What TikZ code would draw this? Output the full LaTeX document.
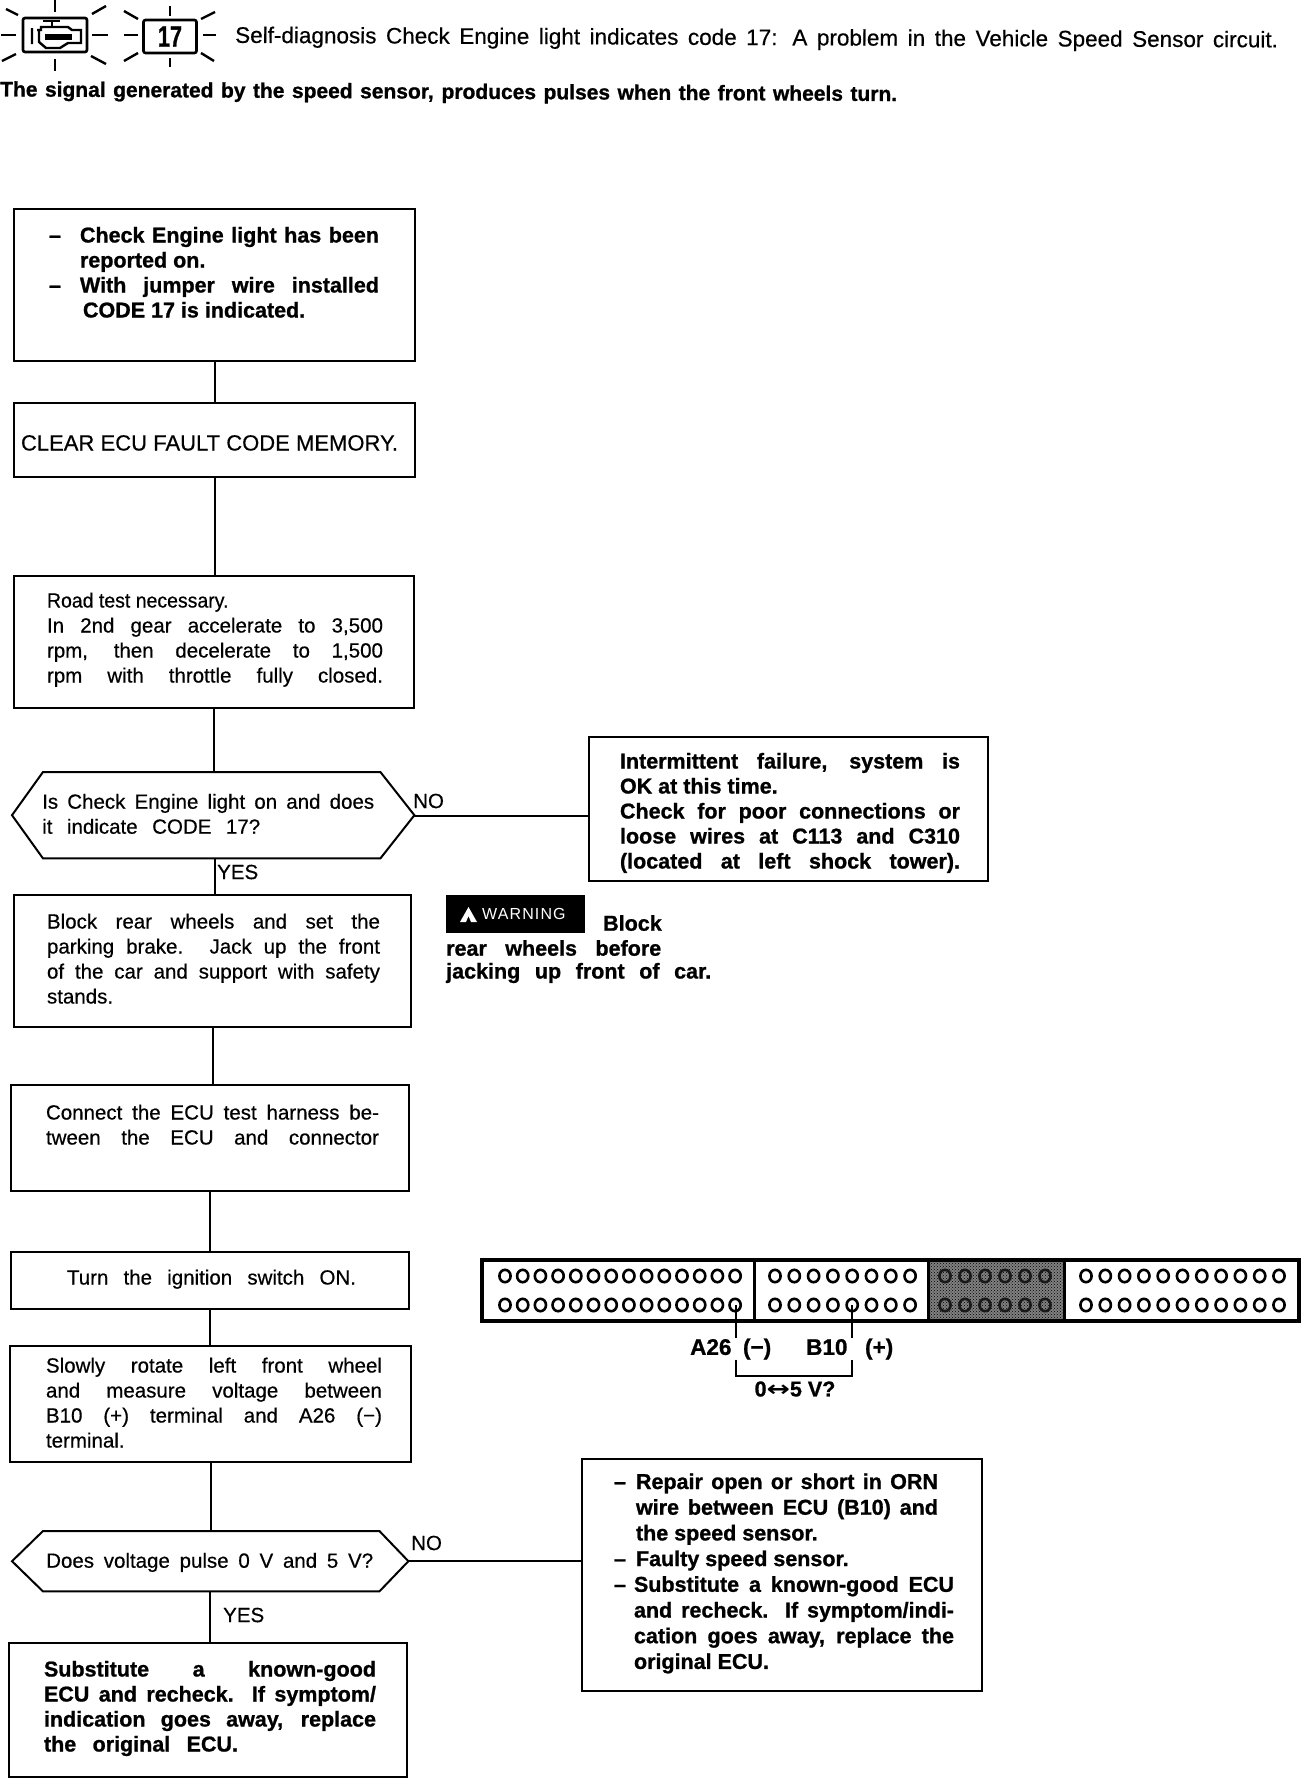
\documentclass[tikz,border=0pt]{standalone}
\usepackage{fontspec}
\setmainfont[FakeBold=0.5]{Liberation Sans}
\newfontfamily\hvy[BoldFeatures={FakeBold=1}]{Liberation Sans}
\newfontfamily\dvs{DejaVu Sans}
\usetikzlibrary{calc,patterns}
\newcommand\fs{\fontsize{20.5}{25}\selectfont}
\newcommand\bs{\hvy\bfseries\fontsize{21.5}{25}\selectfont}
\newcommand\fitl[2]{\strut\makebox[#1pt][s]{#2}}
\newcommand\dashmark[1]{\makebox[#1pt][l]{–}}
\newcommand\inbox[5]{\parbox[c][#2pt][t]{#1pt}{\vspace*{#4pt}\leftskip=#3pt\relax\rightskip=0pt plus 1fil\relax\parindent=0pt\fs\strut #5\par}}
\tikzset{
  x=1pt,y=-1pt,
  flowbox/.style={draw=black,line width=2pt,inner sep=0pt,anchor=north west,fill=white},
  hexbox/.style={inner sep=0pt,anchor=north west},
  hexline/.style={draw=black,line width=2pt,line join=miter},
  flow/.style={draw=black,line width=2pt},
  txt/.style={inner sep=0pt,font=\fs},
  btxt/.style={inner sep=0pt,font=\bs},
  ray/.style={draw=black,line width=2.4pt},
  pin/.style={draw=black,line width=2.6pt},
  darkpin/.style={draw=black!90,line width=2.6pt},
  strip/.style={draw=black,line width=3.5pt},
  sep/.style={draw=black,line width=3pt},
  warnbox/.style={fill=black,text=white,inner sep=0pt,anchor=north west,minimum width=139pt,minimum height=38pt}
}
\begin{document}
\begin{tikzpicture}
\useasboundingbox (0,0) rectangle (1312,1778);
% header icons
\draw[line width=2.6pt,rounded corners=2pt] (23,18) rectangle (87,52);
\draw[line width=2.4pt] (32,28) -- (32,44) (37,30) -- (41,30) -- (41,27) -- (68,27) -- (72,30) -- (81,30) -- (81,43) -- (68,43) -- (60,48) -- (46,48) -- (39,42) -- (39,30);
\draw[line width=2.4pt] (43,21) -- (60,21) (52,21) -- (52,26);
\fill (45,34) rectangle (72,40);
\foreach \a/\b/\c/\d in {55/0/55/12,1/35/16/35,92/35/108/35,55/59/55/71,6/9/18/15,92/14/106/6,2/61/16/54,91/56/106/64,170/6/170/16,124/35/138/35,203/35/216/35,170/58/170/67,124/11/138/19,201/19/215/12,124/61/138/53,201/53/214/61}
  \draw[ray] (\a,\b) -- (\c,\d);
\node[draw=black,line width=2.6pt,rounded corners=2pt,minimum width=53pt,minimum height=33pt,inner sep=0pt,font=\hvy\bfseries\fontsize{27}{27}\selectfont] (code) at (170,36.5) {\scalebox{0.8}[1.1]{17}};
\node[inner sep=0pt,font=\fontsize{22.5}{25}\selectfont,anchor=west,rotate=-0.25] (head1) at (235,37) {\makebox[1043pt][s]{Self-diagnosis Check Engine light indicates code 17: A problem in the Vehicle Speed Sensor circuit.}};
\node[inner sep=0pt,font=\hvy\bfseries\fontsize{21}{25}\selectfont,anchor=west,rotate=-0.3] (head2) at (0,91) {\makebox[897pt][s]{The signal generated by the speed sensor, produces pulses when the front wheels turn.}};

% left column
\node[flowbox] (b1) at (13,208) {\inbox{401}{152}{35}{16}{\bs\fitl{330}{\dashmark{31}Check Engine light has been}\\\hspace*{31pt}reported on.\\\fitl{330}{\dashmark{31}With jumper wire installed}\\\hspace*{34pt}CODE 17 is indicated.}};
\node[flowbox] (b2) at (13,402) {\inbox{401}{74}{7}{30}{\fontsize{22}{25}\selectfont\fitl{377}{CLEAR ECU FAULT CODE MEMORY.}}};
\node[flowbox] (b3) at (13,575) {\inbox{400}{132}{33}{14}{\scalebox{0.95}[1]{Road test necessary.}\\\fitl{336}{In 2nd gear accelerate to 3,500}\\\fitl{336}{rpm, then decelerate to 1,500}\\\fitl{336}{rpm with throttle fully closed.}}};
\node[hexbox] (d1) at (12,772) {\inbox{402}{86}{30}{19}{\fitl{332}{Is Check Engine light on and does}\\\fitl{218}{it indicate CODE 17?}}};
\draw[hexline] (d1.west) -- ($(d1.north west)+(31,0)$) -- ($(d1.north east)+(-34,0)$) -- (d1.east) -- ($(d1.south east)+(-34,0)$) -- ($(d1.south west)+(31,0)$) -- cycle;
\node[flowbox] (b4) at (13,894) {\inbox{397}{132}{33}{16}{\fitl{333}{Block rear wheels and set the}\\\fitl{333}{parking brake. Jack up the front}\\\fitl{333}{of the car and support with safety}\\stands.}};
\node[flowbox] (b5) at (10,1084) {\inbox{398}{106}{35}{17}{\fitl{333}{Connect the ECU test harness be-}\\\fitl{333}{tween the ECU and connector}}};
\node[flowbox] (b6) at (10,1251) {\inbox{398}{57}{56}{15}{\fitl{289}{Turn the ignition switch ON.}}};
\node[flowbox] (b7) at (9,1345) {\inbox{401}{116}{36}{9}{\fitl{336}{Slowly rotate left front wheel}\\\fitl{336}{and measure voltage between}\\\fitl{336}{B10 (+) terminal and A26 (−)}\\terminal.}};
\node[hexbox] (d2) at (12,1531) {\inbox{396}{60}{34}{19}{\fitl{327}{Does voltage pulse 0 V and 5 V?}}};
\draw[hexline] (d2.west) -- ($(d2.north west)+(31,0)$) -- ($(d2.north east)+(-29,0)$) -- (d2.east) -- ($(d2.south east)+(-29,0)$) -- ($(d2.south west)+(31,0)$) -- cycle;
\node[flowbox] (b8) at (8,1642) {\inbox{398}{134}{35}{16}{\bs\fitl{332}{Substitute a known-good}\\\fitl{332}{ECU and recheck. If symptom/}\\\fitl{332}{indication goes away, replace}\\\fitl{194}{the original ECU.}}};

% right column
\node[flowbox] (r1) at (588,736) {\inbox{399}{144}{31}{14}{\bs\fitl{340}{Intermittent failure, system is}\\OK at this time.\\\fitl{340}{Check for poor connections or}\\\fitl{340}{loose wires at C113 and C310}\\\fitl{340}{(located at left shock tower).}}};
\node[flowbox] (r2) at (581,1458) {\inbox{400}{232}{32}{12}{\hvy\bfseries\fontsize{21.5}{25.7}\selectfont\fitl{324}{\dashmark{22}Repair open or short in ORN}\\\hspace*{22pt}\fitl{302}{wire between ECU (B10) and}\\\hspace*{22pt}the speed sensor.\\\dashmark{22}Faulty speed sensor.\\\fitl{340}{\dashmark{20}Substitute a known-good ECU}\\\hspace*{20pt}\fitl{320}{and recheck. If symptom/indi-}\\\hspace*{20pt}\fitl{320}{cation goes away, replace the}\\\hspace*{20pt}original ECU.}};

% connectors
\draw[flow] (b1.south) -- (b1.south |- b2.north);
\draw[flow] (b2.south) -- (b2.south |- b3.north);
\draw[flow] (b3.south) -- (b3.south |- d1.north);
\draw[flow] (d1.south) ++(2,0) coordinate (d1out) -- (d1out |- b4.north);
\draw[flow] (b4.south) -- (b4.south |- b5.north);
\draw[flow] (b5.south) -- (b5.south |- b6.north);
\draw[flow] (b6.south) -- (b6.south |- b7.north);
\draw[flow] (b7.south) -- (b7.south |- d2.north);
\draw[flow] (d2.south) -- (d2.south |- b8.north);
\draw[flow] (d1.east) ++(0,1) coordinate (d1no) -- (d1no -| r1.west);
\draw[flow] (d2.east) -- (d2.east -| r2.west);
\node[txt,anchor=west] (no1) at (413,801) {NO};
\node[txt,anchor=west] (yes1) at (217,872) {YES};
\node[txt,anchor=west] (no2) at (411,1543) {NO};
\node[txt,anchor=west] (yes2) at (223,1615) {YES};

% warning
\node[warnbox] (warn) at (446,895) {\makebox[139pt][l]{\hspace*{36pt}\fontspec{Liberation Sans}\fontsize{16}{16}\selectfont\addfontfeatures{LetterSpace=7}WARNING}};
\fill[white] (460,922) -- (468.5,907) -- (477,922) -- (471,922) -- (468.5,916) -- (466,922) -- cycle;
\node[btxt,anchor=west] (w1) at (603,923) {\makebox[62pt][s]{Block}};
\node[btxt,anchor=west] (w2) at (446,948) {\makebox[215pt][s]{rear wheels before}};
\node[btxt,anchor=west] (w3) at (446,973) {\makebox[265pt][s]{jacking up front of car.}};

% connector strip
\fill[black!50] (928,1259) rectangle (1064,1322);
\fill[pattern=crosshatch dots,pattern color=black] (928,1259) rectangle (1064,1322);
\draw[strip] (482,1260) rectangle (1299,1321);
\draw[sep] (754,1260) -- (754,1321);
\draw[sep] (928,1260) -- (928,1321);
\draw[sep] (1064,1260) -- (1064,1321);
\foreach \r in {1276,1305} {
  \foreach \i in {0,...,13} \draw[pin] ({505+\i*17.7},\r) ellipse (5.6pt and 6.2pt);
  \foreach \i in {0,...,7} \draw[pin] ({775+\i*19.3},\r) ellipse (5.6pt and 6.2pt);
  \foreach \i in {0,...,5} \draw[darkpin] ({945+\i*20},\r) ellipse (5.6pt and 6.2pt);
  \foreach \i in {0,...,10} \draw[pin] ({1086+\i*19.3},\r) ellipse (5.6pt and 6.2pt);
}
\coordinate (pinA) at (736,1305);
\coordinate (pinB) at (852,1305);
\node[inner sep=0pt,font=\hvy\bfseries\fontsize{22.5}{25}\selectfont,anchor=west] (labA) at (690,1349) {\makebox[81pt][s]{A26 (−)}};
\node[inner sep=0pt,font=\hvy\bfseries\fontsize{22.5}{25}\selectfont,anchor=west] (labB) at (806,1349) {\makebox[87pt][s]{B10 (+)}};
\draw[flow] (pinA) -- (pinA |- labA.north);
\draw[flow] (pinB) -- (pinB |- labB.north);
\draw[flow] (pinA |- labA.south) -- ++(0,16) -| (pinB |- labB.south);
\node[btxt,anchor=center] (volts) at (795,1389) {0{\dvs\bfseries\scalebox{1.3}[1]{↔}}5 V?};
\end{tikzpicture}
\end{document}
